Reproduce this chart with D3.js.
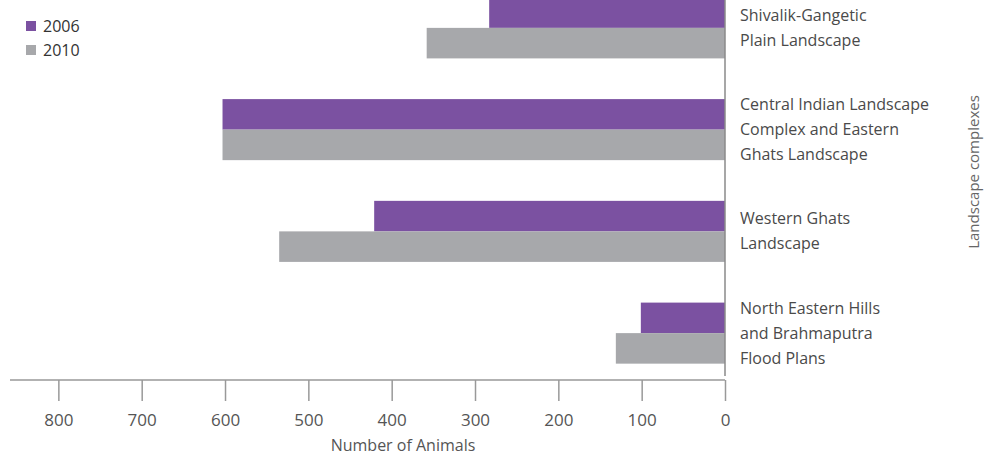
<!DOCTYPE html>
<html><head><meta charset="utf-8">
<script src="https://cdn.jsdelivr.net/npm/d3@7"></script>
<style>
html,body{margin:0;padding:0;background:#fff;}
svg{display:block;font-family:"Open Sans","Noto Sans",sans-serif;}
</style></head>
<body><svg id="c" width="986" height="458"></svg>
<script>
const categories = [
  ["Shivalik-Gangetic", "Plain Landscape"],
  ["Central Indian Landscape", "Complex and Eastern", "Ghats Landscape"],
  ["Western Ghats", "Landscape"],
  ["North Eastern Hills", "and Brahmaputra", "Flood Plans"]
];
const seriesNames = ["2006", "2010"];
const values2006 = [283, 603, 421, 101];
const values2010 = [358, 603, 535, 131];
const tickValues = [0, 100, 200, 300, 400, 500, 600, 700, 800];
const colors = ["#7B51A1", "#A7A8AB"];

const svg = d3.select("#c");
const catKeys = categories.map(d => d.join(" "));
const x = d3.scaleLinear().domain([0, 100]).range([725, 641.67]);
const y = d3.scaleBand().domain(catKeys).range([-23, 384]).paddingInner(0.4).paddingOuter(0.2);
const ys = d3.scaleBand().domain(seriesNames).range([0, y.bandwidth()]);

const rows = catKeys.map((k, i) => ({k, vals: [values2006[i], values2010[i]]}));
const g = svg.selectAll("g.grp").data(rows).join("g").attr("class", "grp")
  .attr("transform", d => `translate(0,${y(d.k)})`);
g.selectAll("rect").data(d => d.vals.map((v, j) => ({v, s: seriesNames[j], j})))
  .join("rect")
  .attr("x", d => x(d.v)).attr("width", d => x(0) - x(d.v))
  .attr("y", d => ys(d.s)).attr("height", ys.bandwidth())
  .attr("fill", d => colors[d.j]);

// vertical category axis line
svg.append("line").attr("x1", x(0)).attr("x2", x(0)).attr("y1", 0).attr("y2", 376)
  .attr("stroke", "#8a8a8a").attr("stroke-width", 1.5);

// bottom axis
const axis = d3.axisBottom(x).tickValues(tickValues).tickSize(21).tickPadding(13).tickFormat(d3.format("d"));
const ax = svg.append("g").attr("transform", "translate(0,380)").call(axis);
ax.select(".domain").attr("d", `M10,0H${x(0)}`).attr("stroke", "#999").attr("stroke-width", 1.5);
ax.selectAll(".tick line").attr("stroke", "#999").attr("stroke-width", 1.5);
ax.selectAll(".tick text").attr("font-size", 17).attr("fill", "#555").attr("font-family", "Open Sans");

svg.append("text").attr("x", 403).attr("y", 451).attr("text-anchor", "middle")
  .attr("font-size", 16).attr("fill", "#555").text("Number of Animals");

// category labels
rows.forEach((r, i) => {
  const lines = categories[i];
  const cy = y(r.k) + y.bandwidth() / 2;
  const t = svg.append("text").attr("x", 740).attr("font-size", 16).attr("fill", "#4a4a4a");
  lines.forEach((ln, j) => {
    t.append("tspan").attr("x", 740)
      .attr("y", cy + (j - (lines.length - 1) / 2) * 25).attr("dy", "0.35em").text(ln);
  });
});

svg.append("text").attr("transform", "translate(979,172) rotate(-90)")
  .attr("text-anchor", "middle").attr("font-size", 15).attr("fill", "#666").text("Landscape complexes");

// legend
seriesNames.forEach((s, i) => {
  svg.append("rect").attr("x", 26).attr("y", 21 + i * 24).attr("width", 10).attr("height", 10).attr("fill", colors[i]);
  svg.append("text").attr("x", 43).attr("y", 26 + i * 24).attr("dy", "0.35em")
    .attr("font-size", 16).attr("fill", "#333").text(s);
});
</script></body></html>
